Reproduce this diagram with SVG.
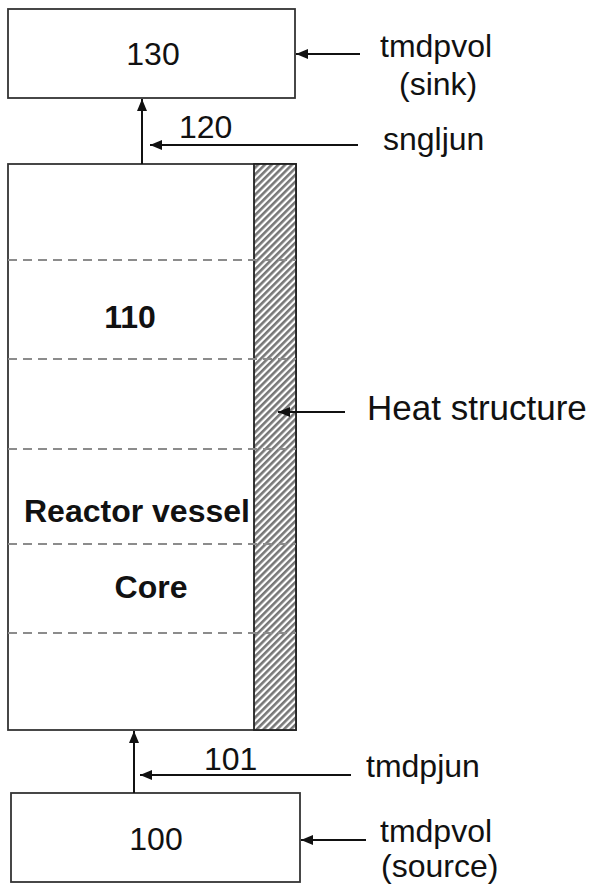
<svg xmlns="http://www.w3.org/2000/svg" width="590" height="885" viewBox="0 0 590 885">
<style>
.box{fill:#fff;stroke:#333;stroke-width:1.8}
.lbl{font-family:"Liberation Sans",Arial,sans-serif;font-size:32px;fill:#111}
.bold{font-weight:bold;font-size:32px}
.arr{stroke:#111;stroke-width:2;fill:none;marker-end:url(#ah)}
.dash{stroke:#8c8c8c;stroke-width:1.8;stroke-dasharray:9 6;fill:none}
</style>
<defs>
<marker id="ah" markerUnits="userSpaceOnUse" markerWidth="14" markerHeight="12" refX="12" refY="5" orient="auto">
<path d="M0,0 L12,5 L0,10 Z" fill="#111"/>
</marker>
<pattern id="hatch" patternUnits="userSpaceOnUse" width="4.8" height="4.8" patternTransform="rotate(45)">
<rect width="4.8" height="4.8" fill="#fff"/>
<rect width="2.6" height="4.8" fill="#777"/>
</pattern>
</defs>
<g id="node-130">
<rect class="box" x="8" y="9" width="287" height="89"/>
<text class="lbl" x="153" y="65" text-anchor="middle">130</text>
</g>
<g id="node-110">
<rect class="box" x="8" y="164" width="288" height="566"/>
<rect x="254" y="164" width="42" height="566" fill="url(#hatch)" stroke="#222" stroke-width="1.8"/>
<line class="dash" x1="8" y1="260" x2="296" y2="260"/>
<line class="dash" x1="8" y1="359" x2="296" y2="359"/>
<line class="dash" x1="8" y1="449" x2="296" y2="449"/>
<line class="dash" x1="8" y1="544" x2="296" y2="544"/>
<line class="dash" x1="8" y1="633" x2="296" y2="633"/>
<text class="lbl bold" x="130" y="328" text-anchor="middle">110</text>
<text class="lbl bold" x="24" y="522">Reactor vessel</text>
<text class="lbl bold" x="151" y="598" text-anchor="middle">Core</text>
</g>
<g id="node-100">
<rect class="box" x="11" y="793" width="289" height="89"/>
<text class="lbl" x="156" y="850" text-anchor="middle">100</text>
</g>
<g id="connectors">
<line class="arr" x1="142" y1="164" x2="142" y2="99"/>
<line class="arr" x1="358" y1="145" x2="150" y2="145"/>
<line class="arr" x1="360" y1="54" x2="296" y2="54"/>
<line class="arr" x1="345" y1="412" x2="278" y2="412"/>
<line class="arr" x1="134" y1="793" x2="134" y2="731"/>
<line class="arr" x1="351" y1="775" x2="140" y2="775"/>
<line class="arr" x1="366" y1="840" x2="301" y2="840"/>
</g>
<g id="labels">
<text class="lbl" x="380" y="57">tmdpvol</text>
<text class="lbl" x="399" y="95">(sink)</text>
<text class="lbl" x="179" y="138">120</text>
<text class="lbl" x="383" y="150">sngljun</text>
<text class="lbl" x="367" y="420" style="font-size:35px">Heat structure</text>
<text class="lbl" x="204" y="770">101</text>
<text class="lbl" x="366" y="777">tmdpjun</text>
<text class="lbl" x="380" y="842">tmdpvol</text>
<text class="lbl" x="381" y="877">(source)</text>
</g>
</svg>
